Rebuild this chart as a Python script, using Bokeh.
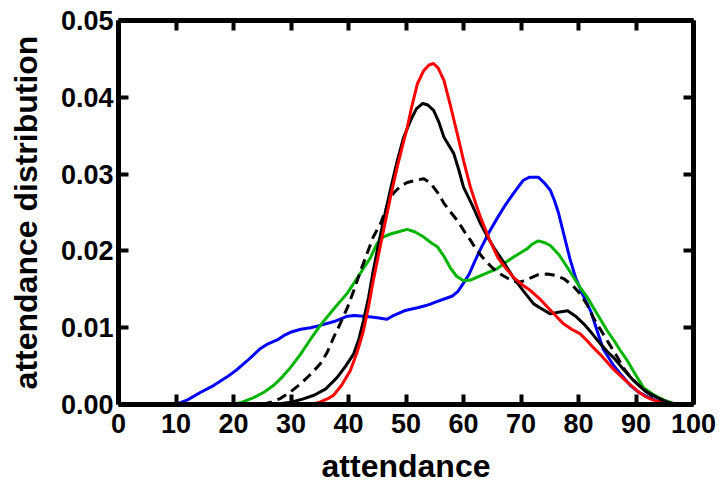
from bokeh.plotting import figure
from bokeh.models import Range1d, LinearAxis, FixedTicker, PrintfTickFormatter, CustomJSTickFormatter
from bokeh.embed import file_html
from bokeh.resources import INLINE

# ---- data ----
blue_x = [10, 12, 14.3, 16.6, 18.9, 20.7, 22.4, 24.7, 26, 27.6, 28.8, 29.9, 31.7, 33.4, 35.1, 37.5,
          39.8, 41, 42.5, 44, 45, 46.7, 47.6, 48.5, 49.7, 50.8, 52, 53, 54, 55, 56.5, 58, 59, 60,
          61, 62, 63, 64.5, 65.9, 67.3, 68.7, 69.6, 70.4, 71.5, 73, 74, 75.1, 75.8, 76.5, 77.6,
          78.5, 79.5, 80.8, 82.1, 83.2, 84.3, 86, 87.5, 89, 90.5, 92, 93.5, 95, 96]
blue_y = [0, 0.0006, 0.0016, 0.0025, 0.0036, 0.0046, 0.0057, 0.0073, 0.0079, 0.0084, 0.009, 0.0094,
          0.0098, 0.01, 0.0103, 0.0108, 0.0115, 0.0116, 0.0115, 0.0114, 0.0113, 0.0111, 0.0115,
          0.0118, 0.0122, 0.0124, 0.0126, 0.0128, 0.013, 0.0133, 0.0137, 0.0141, 0.0147, 0.0158,
          0.017, 0.0187, 0.0203, 0.0225, 0.0243, 0.026, 0.0275, 0.0284, 0.0292, 0.0296, 0.0296,
          0.0289, 0.0279, 0.0266, 0.025, 0.0217, 0.019, 0.0165, 0.0142, 0.0122, 0.0097, 0.0072,
          0.0052, 0.0038, 0.0025, 0.0016, 0.001, 0.0005, 0.0002, 0]

green_x = [19.8, 21.5, 23.5, 25.3, 27, 28.5, 29.9, 31.7, 33.4, 35.1, 37.5, 39.8, 41.8, 43.8, 45, 46,
           47.3, 48.7, 50.2, 51.5, 53.1, 54.3, 55.5, 56.6, 57.7, 58.8, 60, 61.2, 62.4, 64, 65.9,
           67.3, 68.7, 70, 71.1, 72, 73, 74, 75.1, 76.6, 78.1, 79.2, 80.3, 81.5, 82.6, 83.8, 85,
           86.2, 87.3, 88.5, 89.9, 91.3, 93, 94.8, 97]
green_y = [0, 0.0003, 0.0009, 0.0016, 0.0025, 0.0036, 0.0048, 0.0066, 0.0085, 0.0103, 0.0125, 0.0145,
           0.0168, 0.0191, 0.021, 0.0218, 0.0222, 0.0225, 0.0228, 0.0225, 0.0218, 0.0211, 0.0205,
           0.0193, 0.0178, 0.0167, 0.0161, 0.0162, 0.0166, 0.0171, 0.0177, 0.0185, 0.0192, 0.0198,
           0.0203, 0.0209, 0.0213, 0.0211, 0.0207, 0.0195, 0.0178, 0.0165, 0.0152, 0.014, 0.0126,
           0.0111, 0.0096, 0.0083, 0.007, 0.0057, 0.0039, 0.0022, 0.0013, 0.0006, 0]

dash_x = [25, 26.5, 28.2, 30, 31.7, 33.5, 35.1, 36.3, 37.4, 38.6, 39.8, 41, 42.1, 43.2, 44.3, 45.6,
          46.7, 47.8, 49, 50.2, 51.7, 53.1, 54.3, 55.5, 56.6, 57.7, 58.9, 60, 61.2, 62.2, 63.5, 65,
          66.4, 68, 69.4, 70.5, 71.7, 73, 74.6, 76, 77.4, 79, 80.3, 81.5, 82.6, 83.8, 85, 86.5,
          87.8, 89, 90.2, 91.5, 93, 94.5, 96]
dash_y = [0, 0.0003, 0.0008, 0.0017, 0.0027, 0.004, 0.0053, 0.0068, 0.0087, 0.0106, 0.0126, 0.015,
          0.0174, 0.0196, 0.0218, 0.0236, 0.0258, 0.0275, 0.0284, 0.0289, 0.0292, 0.0294, 0.0288,
          0.0276, 0.0262, 0.0251, 0.024, 0.0227, 0.0214, 0.0202, 0.019, 0.0178, 0.017, 0.0163,
          0.0159, 0.0161, 0.0165, 0.0169, 0.017, 0.0168, 0.0164, 0.0155, 0.0144, 0.013, 0.0113,
          0.0098, 0.0083, 0.0065, 0.0048, 0.0036, 0.0027, 0.0018, 0.001, 0.0004, 0]

black_x = [27, 30, 32, 34, 36, 38, 39.5, 40.9, 41.8, 42.6, 43.5, 44.3, 45.2, 46.1, 47.3, 48.5, 49.6,
           50.8, 51.8, 52.9, 53.8, 54.8, 55.7, 56.6, 58.3, 59.2, 60, 61.5, 63, 64.2, 65.3, 67, 68.7,
           70.5, 72.2, 73.5, 75.1, 76.5, 78.1, 79.5, 80.9, 82.3, 83.8, 85, 86.1, 87.8, 89.6, 91.5,
           93.7, 95.5, 97]
black_y = [0, 0.0003, 0.0007, 0.0012, 0.002, 0.0035, 0.005, 0.0066, 0.0085, 0.0109, 0.014, 0.0174,
           0.0208, 0.024, 0.028, 0.0318, 0.0348, 0.037, 0.0385, 0.0392, 0.039, 0.0383, 0.0368,
           0.0348, 0.0327, 0.0305, 0.0283, 0.026, 0.0235, 0.0218, 0.0204, 0.0185, 0.0165, 0.0147,
           0.0131, 0.0125, 0.0118, 0.012, 0.0122, 0.0115, 0.0105, 0.0093, 0.0079, 0.0069, 0.0061,
           0.0046, 0.0031, 0.0018, 0.0009, 0.0003, 0]

red_x = [33.5, 35, 36.5, 37.4, 38.8, 40.3, 41.5, 42.6, 43.5, 44.3, 45.2, 46.1, 47.3, 48.5, 49.5,
         50.2, 51, 52, 53.1, 54, 54.8, 55.6, 56.6, 57.7, 58.9, 60, 61.2, 62.2, 63, 64.5, 66, 67.4,
         68.8, 70.2, 71.7, 73.2, 74.6, 76, 77.4, 78.8, 80.3, 81.5, 82.6, 83.8, 85, 86.2, 87.5, 88.5,
         89.6, 90.5, 91.5, 92.6, 93.7, 95]
red_y = [0, 0.0003, 0.0008, 0.0012, 0.0025, 0.0044, 0.0068, 0.0096, 0.0128, 0.0161, 0.0194, 0.0227,
         0.027, 0.031, 0.034, 0.036, 0.0388, 0.0418, 0.0435, 0.0442, 0.0444, 0.0438, 0.0422, 0.039,
         0.0353, 0.0318, 0.0283, 0.026, 0.0243, 0.0215, 0.0191, 0.0177, 0.0165, 0.0156, 0.0148,
         0.0138, 0.0127, 0.0116, 0.0105, 0.0098, 0.0092, 0.0083, 0.0074, 0.0065, 0.0055, 0.0045,
         0.0036, 0.0029, 0.0022, 0.0016, 0.0011, 0.0007, 0.0004, 0]

x_ticks = [0, 10, 20, 30, 40, 50, 60, 70, 80, 90, 100]
y_ticks = [0.0, 0.01, 0.02, 0.03, 0.04, 0.05]

FONT = "Liberation Sans"

p = figure(width=723, height=494, output_backend="svg", toolbar_location=None,
           x_range=Range1d(0, 100), y_range=Range1d(0, 0.05),
           min_border_left=118, min_border_right=30, min_border_top=20, min_border_bottom=90)
p.outline_line_color = None
p.grid.visible = False
p.background_fill_color = "white"
p.border_fill_color = "white"

def style_axis(ax, show_labels):
    ax.axis_line_width = 5
    ax.axis_line_color = "black"
    ax.major_tick_line_width = 4
    ax.major_tick_line_color = "black"
    ax.major_tick_in = 10
    ax.major_tick_out = 0
    ax.minor_tick_line_color = None
    ax.major_label_text_font = FONT
    ax.major_label_text_font_style = "bold"
    ax.major_label_text_font_size = "27px"
    ax.major_label_text_color = "black"
    ax.axis_label_text_font = FONT
    ax.axis_label_text_font_style = "bold"
    ax.axis_label_text_font_size = "32px"
    ax.axis_label_text_color = "black"
    if not show_labels:
        ax.formatter = CustomJSTickFormatter(code="return ''")
        ax.major_label_standoff = 0

xa = p.xaxis[0]
xa.ticker = FixedTicker(ticks=x_ticks)
style_axis(xa, True)
xa.axis_label = "attendance"
xa.major_label_standoff = 9
xa.axis_label_standoff = 12

ya = p.yaxis[0]
ya.ticker = FixedTicker(ticks=y_ticks)
ya.formatter = PrintfTickFormatter(format="%.2f")
style_axis(ya, True)
ya.axis_label = "attendance distribution"
ya.major_label_standoff = 5
ya.axis_label_standoff = 14

top = LinearAxis(ticker=FixedTicker(ticks=x_ticks))
style_axis(top, False)
p.add_layout(top, "above")
right = LinearAxis(ticker=FixedTicker(ticks=y_ticks))
style_axis(right, False)
p.add_layout(right, "right")

p.line(blue_x, blue_y, line_color="#0000FF", line_width=3)
p.line(green_x, green_y, line_color="#00B400", line_width=3)
p.line(dash_x, dash_y, line_color="black", line_width=3, line_dash="10 6")
p.line(black_x, black_y, line_color="black", line_width=3)
p.line(red_x, red_y, line_color="#FF0000", line_width=3)

open("out.html", "w").write(file_html(p, INLINE))
